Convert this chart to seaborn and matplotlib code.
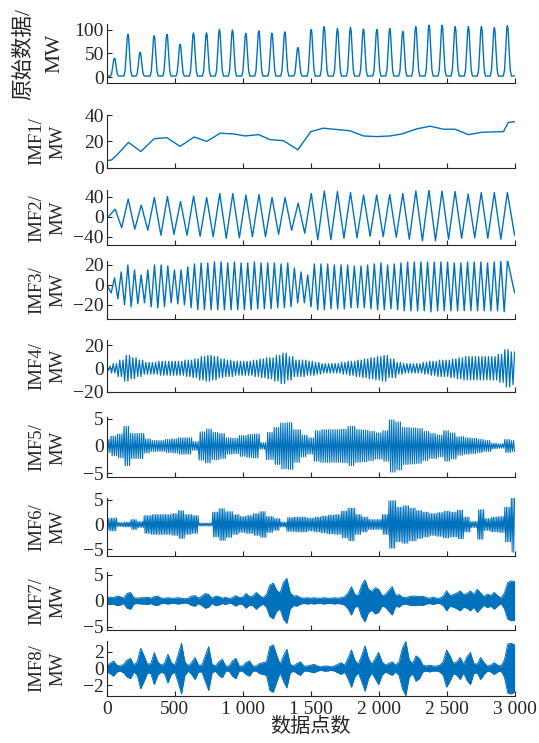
import numpy as np
import matplotlib
matplotlib.use("Agg")
import matplotlib.pyplot as plt
import seaborn as sns

# ---- data (sample index 0..3000) ----
# raw load: daily peaks
peak_pos = [57, 156, 246, 349, 443, 540, 638, 734, 829, 925, 1023, 1119, 1215, 1310, 1406, 1504,
            1599, 1697, 1793, 1888, 1987, 2082, 2178, 2273, 2371, 2467, 2563, 2660, 2756, 2851, 2947]
peak_val = [40, 90, 52, 87, 90, 69, 93, 93, 100, 99, 92, 97, 92, 95, 62, 100,
            106, 102, 104, 101, 100, 102, 96, 106, 109, 109, 106, 106, 106, 104, 108]
raw_base = 2.0
peak_offset = [-30, -21, -12, -5, 0, 5, 12, 21, 30]
peak_shape = [0.0, 0.12, 0.55, 0.93, 1.0, 0.93, 0.55, 0.12, 0.0]

# IMF1: slow trend
imf1_x = [0, 37, 87, 160, 251, 349, 442, 540, 643, 736, 835, 933, 1018, 1116, 1202, 1300, 1406,
          1501, 1594, 1693, 1790, 1888, 1987, 2084, 2170, 2281, 2379, 2476, 2562, 2660, 2759,
          2918, 2954, 3000]
imf1_y = [5.4, 5.9, 11, 19.2, 12.3, 22, 22.8, 16.2, 23.3, 20, 26.2, 25.6, 24.1, 25.1, 21.3, 20.5,
          13.6, 27.4, 30, 29, 28, 24.1, 23.6, 24.1, 25.6, 29.5, 31.5, 29.2, 29.2, 25.1, 26.9,
          27.4, 34.4, 34.9]

# IMF2: extrema (first at 62, last at 2947)
imf2_start, imf2_end = -4, -37
imf2_ext = [15, -22, 35, -25, 23, -27, 38, -37, 40, -35, 30, -37, 41, -39, 38, -40, 46, -43,
            46, -42, 43, -40, 44, -40, 38, -35, 38, -27, 27, -33, 46, -46, 51, -46, 50, -43,
            48, -42, 43, -39, 43, -40, 44, -41, 46, -45, 51, -48, 53, -48, 51, -45, 50, -43,
            45, -42, 48, -43, 48, -45, 48]

# IMF3: extrema (first at 33, last at 2948)
imf3_start, imf3_end = 0, -8
imf3_ext = [-8, 7, -14, 13, -20, 20, -22, 15, -19, 10, -18, 15, -22, 20, -23, 20, -22, 19,
            -18, 15, -19, 15, -20, 18, -23, 21, -25, 22, -25, 22, -25, 23, -25, 23, -25, 22,
            -25, 23, -25, 22, -25, 22, -25, 23, -24, 22, -24, 22, -24, 22, -23, 21, -23, 22,
            -22, 17, -18, 13, -18, 10, -22, 21, -25, 21, -25, 21, -24, 20, -24, 20, -24, 20,
            -23, 19, -23, 19, -23, 20, -24, 21, -25, 22, -25, 20, -24, 21, -25, 22, -26, 23,
            -26, 23, -26, 23, -26, 23, -27, 23, -26, 23, -26, 23, -26, 22, -26, 22, -26, 23,
            -26, 23, -26, 23, -26, 22, -26, 23, -26, 24, -27, 25]

# IMF4..IMF8: oscillation amplitude envelopes
imf4_env = [2, 4, 7, 11, 9, 7, 5, 5, 6, 6, 6, 6, 7, 8, 10, 11, 10, 8, 7, 6, 6, 6, 7, 8, 9, 11,
            13, 10, 7, 7, 6, 5, 4, 4, 4, 5, 6, 7, 8, 9, 10, 11, 8, 5, 4, 4, 4, 5, 6, 7, 7, 8,
            9, 10, 10, 10, 10, 10, 12, 16, 14]
imf5_env = [1.2, 1.8, 2.2, 3.6, 2.3, 2.3, 1.3, 1.0, 1.0, 1.2, 1.3, 1.5, 1.5, 0.8, 2.6, 3.1,
            2.5, 2.3, 1.5, 1.4, 1.9, 2.1, 2.2, 0.6, 2.5, 3.4, 4.2, 4.3, 3.0, 2.0, 1.5, 2.8,
            3.0, 3.0, 3.0, 3.1, 3.6, 3.0, 2.9, 2.7, 2.4, 2.8, 4.8, 4.4, 3.4, 3.3, 3.2, 2.7,
            2.3, 2.0, 2.8, 2.4, 1.7, 1.5, 1.4, 1.2, 1.0, 0.5, 0.4, 1.2, 1.0]
imf6_env = [1.2, 1.3, 0.4, 0.5, 1.0, 0.6, 1.8, 2.0, 2.0, 2.0, 2.2, 2.8, 2.0, 1.8, 0.3, 0.3,
            2.5, 3.2, 2.6, 2.0, 1.6, 1.8, 2.2, 2.6, 1.6, 1.2, 0.5, 1.4, 1.5, 1.5, 1.3, 1.5,
            1.7, 1.9, 2.0, 2.7, 3.3, 2.0, 1.5, 1.0, 1.0, 2.0, 4.8, 3.5, 3.8, 3.3, 2.8, 2.5,
            2.2, 2.4, 2.7, 2.5, 2.9, 1.5, 0.6, 3.0, 1.2, 1.5, 1.6, 3.5, 5.6]
imf7_env = [0.7, 0.7, 0.6, 0.9, 0.8, 0.5, 1.4, 1.6, 0.6, 0.5, 0.6, 0.6, 0.7, 0.5, 0.8, 0.9,
            0.5, 0.5, 0.6, 0.5, 0.5, 0.6, 0.5, 0.4, 0.5, 0.9, 1.0, 0.5, 0.9, 1.4, 1.2, 0.5,
            0.9, 0.8, 0.5, 0.7, 0.4, 0.6, 1.0, 0.6, 0.7, 1.4, 0.8, 0.9, 1.6, 1.0, 0.6, 1.2,
            3.0, 3.4, 2.0, 1.5, 3.5, 4.3, 1.5, 0.9, 1.0, 0.6, 0.5, 0.6, 0.5, 0.6, 0.5, 0.5,
            0.6, 0.5, 0.5, 0.6, 0.5, 0.6, 0.8, 1.5, 2.7, 1.2, 1.0, 3.0, 4.0, 2.2, 1.8, 2.5,
            2.2, 1.0, 1.2, 2.0, 2.7, 1.0, 1.2, 0.7, 0.6, 0.8, 0.9, 0.9, 0.8, 0.9, 0.6, 0.5,
            0.7, 0.5, 0.5, 0.9, 1.9, 1.0, 1.2, 1.5, 1.9, 1.2, 1.4, 1.9, 1.2, 2.2, 1.5, 0.8,
            1.3, 1.0, 1.6, 1.0, 0.5, 1.5, 3.5, 3.8, 3.7]
imf8_env = [0.4, 0.6, 0.9, 0.4, 0.3, 0.5, 1.0, 1.2, 0.4, 0.8, 2.4, 1.5, 0.5, 0.6, 1.9, 0.8,
            0.4, 0.6, 1.7, 0.7, 0.4, 1.6, 3.0, 0.8, 0.3, 0.7, 1.3, 0.4, 0.4, 1.5, 2.6, 0.5,
            0.3, 0.8, 1.1, 0.3, 0.3, 0.9, 1.2, 0.3, 0.3, 0.7, 0.9, 0.3, 0.3, 0.6, 0.7, 0.8,
            2.6, 2.8, 1.6, 0.5, 1.5, 2.3, 0.5, 0.3, 0.6, 0.8, 0.3, 0.3, 0.4, 0.5, 0.3, 0.2,
            0.3, 0.3, 0.2, 0.3, 0.5, 0.7, 0.4, 1.2, 2.2, 1.0, 0.5, 1.5, 2.7, 1.2, 0.5, 1.2,
            1.9, 0.8, 0.4, 0.6, 0.8, 0.4, 0.8, 2.4, 3.2, 1.0, 0.6, 1.5, 1.2, 0.4, 0.3, 0.4,
            0.3, 0.3, 0.4, 0.8, 2.2, 1.5, 0.6, 0.8, 1.3, 0.5, 1.4, 1.9, 0.6, 0.5, 1.3, 0.7,
            0.3, 0.4, 0.7, 0.4, 0.3, 1.0, 2.9, 3.0, 2.8]

xticks = [0, 500, 1000, 1500, 2000, 2500, 3000]
xtick_labels = ["0", "500", "1 000", "1 500", "2 000", "2 500", "3 000"]
ylabels = ["原始数据/\nMW", "IMF1/\nMW", "IMF2/\nMW", "IMF3/\nMW", "IMF4/\nMW",
           "IMF5/\nMW", "IMF6/\nMW", "IMF7/\nMW", "IMF8/\nMW"]
yticks = [[0, 50, 100], [0, 20, 40], [-40, 0, 40], [-20, 0, 20], [-20, 0, 20],
          [-5, 0, 5], [-5, 0, 5], [-5, 0, 5], [-2, 0, 2]]
ylims = [(-12, 111), (0, 40), (-57, 53), (-34, 24), (-20.6, 24.3),
         (-5.8, 5.3), (-6.3, 5.35), (-5.5, 5.5), (-3.3, 3.3)]


def raw_series():
    xs, ys = [0], [raw_base]
    for p, v in zip(peak_pos, peak_val):
        for o, s in zip(peak_offset, peak_shape):
            xs.append(p + o)
            ys.append(raw_base + s * (v - raw_base))
    xs.append(3000)
    ys.append(raw_base)
    return np.array(xs), np.array(ys)


def extrema_series(start, ext, end, x0, x1):
    xs = np.concatenate([[0], np.linspace(x0, x1, len(ext)), [3000]])
    ys = np.concatenate([[start], ext, [end]])
    return xs, ys


def zigzag(env, half):
    env = np.asarray(env, dtype=float)
    step = 3000 / (len(env) - 1)
    xs = np.arange(0, 3001, half)
    idx = np.minimum(np.round(xs / step).astype(int), len(env) - 1)
    sign = np.where(np.arange(len(xs)) % 2 == 0, 1.0, -1.0)
    return xs, env[idx] * sign


series = [
    raw_series(),
    (np.array(imf1_x), np.array(imf1_y)),
    extrema_series(imf2_start, imf2_ext, imf2_end, 62, 2947),
    extrema_series(imf3_start, imf3_ext, imf3_end, 33, 2948),
    zigzag(imf4_env, 12),
    zigzag(imf5_env, 8),
    zigzag(imf6_env, 6),
    None,
    None,
]
filled = {7: imf7_env, 8: imf8_env}
widths = [1.0, 1.0, 1.0, 1.0, 0.9, 0.8, 0.7, 0.7, 0.7]

sns.set_style("ticks")
plt.rcParams["font.family"] = ["Liberation Serif", "Noto Sans CJK SC"]
plt.rcParams["axes.unicode_minus"] = True

W, H = 539, 743
fig = plt.figure(figsize=(W / 100, H / 100), dpi=100)
# panel top/bottom in pixels
rows = [(24.3, 82.7), (115, 167.7), (190, 245.3), (261, 318.7), (340, 392.3),
        (417.2, 477.5), (498.1, 555.6), (572.1, 629.6), (640.7, 696.4)]
left_px, right_px = 106.7, 514.6
color = "#0072BD"

for i, (top, bot) in enumerate(rows):
    ax = fig.add_axes([left_px / W, 1 - bot / H, (right_px - left_px) / W, (bot - top) / H])
    if i in filled:
        env = np.asarray(filled[i], dtype=float)
        ex = np.linspace(0, 3000, len(env))
        sns.lineplot(x=ex, y=env, ax=ax, color=color, linewidth=0.7, estimator=None, sort=False)
        sns.lineplot(x=ex, y=-env, ax=ax, color=color, linewidth=0.7, estimator=None, sort=False)
        ax.fill_between(ex, -env, env, color=color, linewidth=0)
    else:
        xs, ys = series[i]
        sns.lineplot(x=xs, y=ys, ax=ax, color=color, linewidth=widths[i],
                     estimator=None, sort=False)
    ax.set_xlim(0, 3000)
    ax.set_ylim(*ylims[i])
    ax.set_yticks(yticks[i])
    ax.set_xticks(xticks)
    sns.despine(ax=ax)
    for s in ["left", "bottom"]:
        ax.spines[s].set_color("#262626")
        ax.spines[s].set_linewidth(0.8)
    ax.tick_params(direction="in", length=3.5, width=0.8, color="#262626",
                   labelsize=14, pad=2)
    if i == len(rows) - 1:
        ax.set_xticklabels(xtick_labels)
        ax.tick_params(axis="x", pad=3)
        ax.set_xlabel("数据点数", fontsize=14.5, labelpad=0)
    else:
        ax.tick_params(labelbottom=False)
    if i == 0:
        ax.set_ylabel(ylabels[i], fontsize=15.5, va="center", ha="center", linespacing=1.75)
        ax.yaxis.set_label_coords(-0.165, 0.5)
    else:
        ax.set_ylabel(ylabels[i], fontsize=13.5, va="center", ha="center", linespacing=1.35)
        ax.yaxis.set_label_coords(-0.145, 0.5)

fig.savefig("out.png", dpi=100)
